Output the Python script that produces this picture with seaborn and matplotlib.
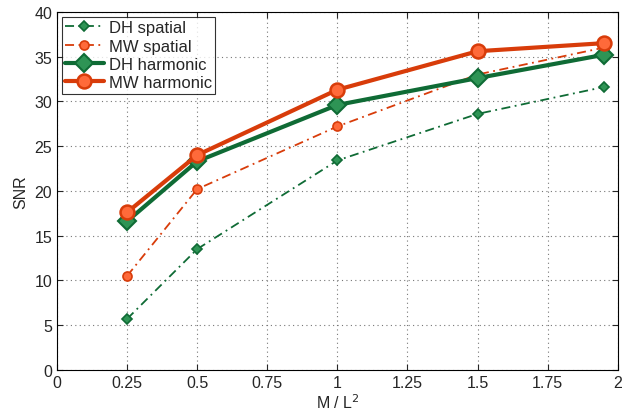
import matplotlib
matplotlib.use("Agg")
import matplotlib.pyplot as plt
import seaborn as sns
import pandas as pd

x_vals = [0.25, 0.5, 1.0, 1.5, 1.95]
dh_spatial = [5.7, 13.5, 23.4, 28.6, 31.6]
mw_spatial = [10.5, 20.2, 27.2, 33.0, 36.0]
dh_harmonic = [16.6, 23.3, 29.6, 32.6, 35.2]
mw_harmonic = [17.6, 24.0, 31.3, 35.6, 36.5]
series_names = ["DH spatial", "MW spatial", "DH harmonic", "MW harmonic"]
x_ticks = [0, 0.25, 0.5, 0.75, 1, 1.25, 1.5, 1.75, 2]
x_tick_labels = ["0", "0.25", "0.5", "0.75", "1", "1.25", "1.5", "1.75", "2"]
y_ticks = [0, 5, 10, 15, 20, 25, 30, 35, 40]

sns.set_style("ticks")
plt.rcParams['font.family'] = ['Liberation Sans', 'DejaVu Sans']

fig = plt.figure(figsize=(6.33, 4.14), dpi=100)
ax = fig.add_axes([0.09, 0.104, 0.886, 0.865])

green = "#0f6b35"
green_face = "#2e9455"
orange = "#d83c0a"
orange_face = "#ff6a3a"

styles = {
    "DH spatial": dict(color=green, lw=1.3, ls=(0, (5, 2.5, 1, 2.5)), marker="D", ms=5.5, mfc=green_face, mec=green, mew=1.2),
    "MW spatial": dict(color=orange, lw=1.3, ls=(0, (5, 2.5, 1, 2.5)), marker="o", ms=6.5, mfc=orange_face, mec=orange, mew=1.2),
    "DH harmonic": dict(color=green, lw=3, ls="-", marker="D", ms=9, mfc=green_face, mec=green, mew=1.5),
    "MW harmonic": dict(color=orange, lw=3, ls="-", marker="o", ms=10, mfc=orange_face, mec=orange, mew=1.8),
}
data = {"DH spatial": dh_spatial, "MW spatial": mw_spatial,
        "DH harmonic": dh_harmonic, "MW harmonic": mw_harmonic}

for name in series_names:
    df = pd.DataFrame({"x": x_vals, "y": data[name]})
    st = styles[name]
    sns.lineplot(data=df, x="x", y="y", ax=ax, color=st["color"], linewidth=st["lw"],
                 linestyle=st["ls"], marker=st["marker"], markersize=st["ms"],
                 markerfacecolor=st["mfc"], markeredgecolor=st["mec"],
                 markeredgewidth=st["mew"], label=name)

ax.set_xlim(0, 2)
ax.set_ylim(0, 40)
ax.set_xticks(x_ticks)
ax.set_xticklabels(x_tick_labels)
ax.set_yticks(y_ticks)
ax.grid(True, linestyle=(0, (1, 3)), color="#777777", linewidth=0.8)
for s in ax.spines.values():
    s.set_visible(True)
    s.set_color("black")
    s.set_linewidth(0.8)
ax.tick_params(direction="in", length=4, labelsize=11.5, top=True, right=True,
               labeltop=False, labelright=False)
ax.set_xlabel("M / L$^2$", fontsize=11.5, labelpad=2)
ax.set_ylabel("SNR", fontsize=11.5)

leg = ax.legend(loc="upper left", fontsize=12, frameon=True, fancybox=False,
                edgecolor="black", borderpad=0.2, handlelength=2.3,
                labelspacing=0.2, handletextpad=0.3, borderaxespad=0.3)
leg.get_frame().set_linewidth(0.8)

fig.savefig("out.png", dpi=100)
